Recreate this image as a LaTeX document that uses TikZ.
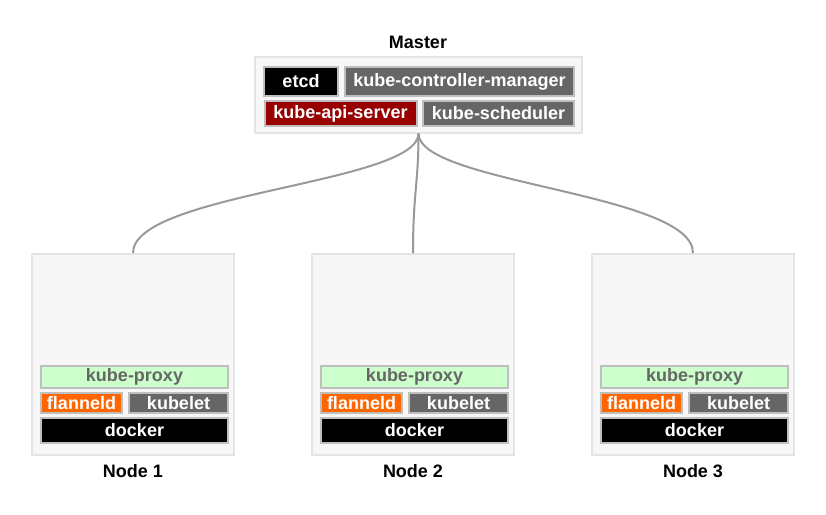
\documentclass[tikz,border=0pt]{standalone}
\usepackage{fontspec}
\setmainfont{Liberation Sans}
\usetikzlibrary{positioning}
\definecolor{boxfill}{HTML}{F7F7F7}
\definecolor{boxline}{HTML}{E4E4E4}
\definecolor{partline}{HTML}{BFBFBF}
\definecolor{darkgray}{HTML}{666666}
\definecolor{apired}{HTML}{990000}
\definecolor{flannelorange}{HTML}{FF6600}
\definecolor{proxygreen}{HTML}{CCFFCC}
\definecolor{linkgray}{HTML}{999999}
\tikzset{
	host/.style={draw=boxline, fill=boxfill, line width=2pt, inner sep=0pt},
	part/.style={draw=partline, line width=2pt, inner sep=0pt, text=white,
		font=\fontsize{18}{20}\selectfont\bfseries},
	title/.style={font=\fontsize{18}{20}\selectfont\bfseries},
	link/.style={draw=linkgray, line width=2pt},
}
\begin{document}
\begin{tikzpicture}[x=1pt, y=-1pt]
		\useasboundingbox (0,0) rectangle (826,514);
		% master
		\node[title] (mastertitle) at (418,42) {Master};
		\node[host, minimum width=327pt, minimum height=76pt] (master) at (418.5,94.5) {};
		\node[part, fill=black, minimum width=74pt, minimum height=29pt] (etcd) at (301,81.5) {etcd};
		\node[part, fill=darkgray, minimum width=229pt, minimum height=29pt] (kcm) at (459.5,81.5) {kube-controller-manager};
		\node[part, fill=apired, minimum width=152pt, minimum height=25pt] (apisrv) at (340.5,113.5) {kube-api-server};
		\node[part, fill=darkgray, minimum width=151pt, minimum height=25pt] (sched) at (498.5,113.5) {kube-scheduler};
		% worker nodes
		\foreach \n/\dx in {1/0, 2/280, 3/560} {
			\begin{scope}[xshift=\dx pt]
				\node[host, minimum width=202pt, minimum height=201pt] (node\n) at (133,354.5) {};
				\node[part, fill=proxygreen, text=darkgray, minimum width=187pt, minimum height=22pt] (proxy\n) at (134.5,377) {kube-proxy};
				\node[part, fill=flannelorange, minimum width=81pt, minimum height=20pt] (flannel\n) at (81.5,403) {flanneld};
				\node[part, fill=darkgray, minimum width=99pt, minimum height=20pt] (kubelet\n) at (178.5,403) {kubelet};
				\node[part, fill=black, minimum width=187pt, minimum height=25pt] (docker\n) at (134.5,430.5) {docker};
				\node[title] (nodetitle\n) at (133,471) {Node \n};
			\end{scope}
		}
		% links
		\draw[link] (master.south) .. controls +(0,50) and +(0,-60) .. (node1.north);
		\draw[link] (master.south) .. controls +(0,50) and +(0,-60) .. (node2.north);
		\draw[link] (master.south) .. controls +(0,50) and +(0,-60) .. (node3.north);
	\end{tikzpicture}
\end{document}
